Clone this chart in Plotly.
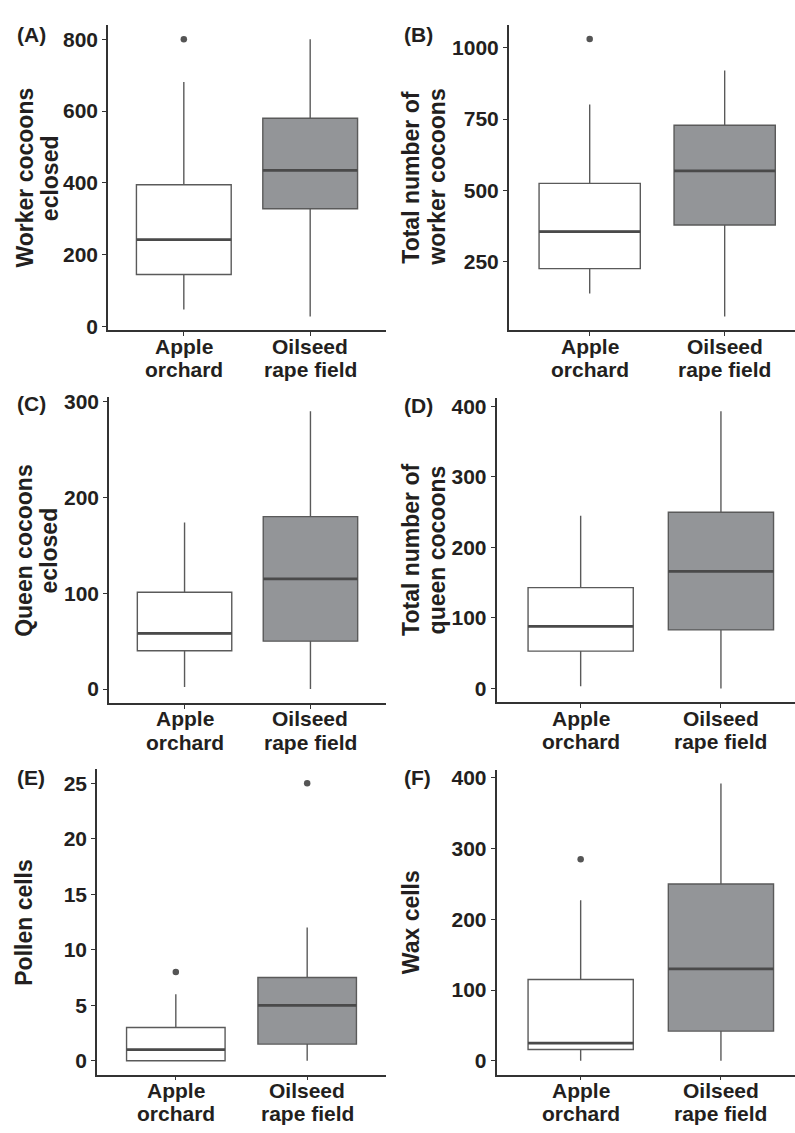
import plotly.graph_objects as go

# ---------------------------------------------------------------
# Colony measures by landscape type (box summaries)
# ---------------------------------------------------------------
groups = ["Apple orchard", "Oilseed rape field"]
group_label_lines = [["Apple", "orchard"], ["Oilseed", "rape field"]]

# (A) Worker cocoons eclosed
worker_eclosed_lower = [48, 28]
worker_eclosed_q1 = [145, 328]
worker_eclosed_median = [242, 435]
worker_eclosed_q3 = [395, 580]
worker_eclosed_upper = [681, 800]
worker_eclosed_outliers = [[800], []]
worker_eclosed_ticks = [0, 200, 400, 600, 800]

# (B) Total number of worker cocoons
worker_total_lower = [138, 57]
worker_total_q1 = [225, 378]
worker_total_median = [355, 568]
worker_total_q3 = [524, 728]
worker_total_upper = [801, 920]
worker_total_outliers = [[1031], []]
worker_total_ticks = [250, 500, 750, 1000]

# (C) Queen cocoons eclosed
queen_eclosed_lower = [2, 0]
queen_eclosed_q1 = [40, 50]
queen_eclosed_median = [58, 115]
queen_eclosed_q3 = [101, 180]
queen_eclosed_upper = [174, 290]
queen_eclosed_outliers = [[], []]
queen_eclosed_ticks = [0, 100, 200, 300]

# (D) Total number of queen cocoons
queen_total_lower = [3, 0]
queen_total_q1 = [53, 83]
queen_total_median = [88, 166]
queen_total_q3 = [143, 250]
queen_total_upper = [245, 393]
queen_total_outliers = [[], []]
queen_total_ticks = [0, 100, 200, 300, 400]

# (E) Pollen cells
pollen_lower = [0, 0]
pollen_q1 = [0, 1.5]
pollen_median = [1, 5]
pollen_q3 = [3, 7.5]
pollen_upper = [6, 12]
pollen_outliers = [[8], [25]]
pollen_ticks = [0, 5, 10, 15, 20, 25]

# (F) Wax cells
wax_lower = [0, 0]
wax_q1 = [16, 42]
wax_median = [25, 130]
wax_q3 = [115, 250]
wax_upper = [227, 392]
wax_outliers = [[285], []]
wax_ticks = [0, 100, 200, 300, 400]

panel_letters = ["(A)", "(B)", "(C)", "(D)", "(E)", "(F)"]
panel_titles = [
    ["Worker cocoons", "eclosed"],
    ["Total number of", "worker cocoons"],
    ["Queen cocoons", "eclosed"],
    ["Total number of", "queen cocoons"],
    ["Pollen cells"],
    ["Wax cells"],
]

panels = [
    (worker_eclosed_lower, worker_eclosed_q1, worker_eclosed_median, worker_eclosed_q3,
     worker_eclosed_upper, worker_eclosed_outliers, worker_eclosed_ticks),
    (worker_total_lower, worker_total_q1, worker_total_median, worker_total_q3,
     worker_total_upper, worker_total_outliers, worker_total_ticks),
    (queen_eclosed_lower, queen_eclosed_q1, queen_eclosed_median, queen_eclosed_q3,
     queen_eclosed_upper, queen_eclosed_outliers, queen_eclosed_ticks),
    (queen_total_lower, queen_total_q1, queen_total_median, queen_total_q3,
     queen_total_upper, queen_total_outliers, queen_total_ticks),
    (pollen_lower, pollen_q1, pollen_median, pollen_q3,
     pollen_upper, pollen_outliers, pollen_ticks),
    (wax_lower, wax_q1, wax_median, wax_q3,
     wax_upper, wax_outliers, wax_ticks),
]

# ---------------------------------------------------------------
# Page geometry (pixels)
# ---------------------------------------------------------------
W, H = 795, 1133
FONT = "Liberation Sans, Arial, Helvetica, sans-serif"
TXT = "#231f20"
AXIS_COL = "#333333"
BOX_LINE = "#5a5a5a"
MEDIAN_LINE = "#4a4a4a"
FILLS = ["#ffffff", "#939598"]

# x-domain in px, right end of category range
x_geom = [
    (108, 386, 1.6), (508.7, 795, 1.521),
    (109, 386, 1.6), (496.5, 795, 1.528),
    (97, 386, 1.6), (496.5, 795, 1.528),
]
# y-domain in px (top, bottom)
y_geom = [
    (18.5, 327.5), (18.3, 327.4),
    (395.3, 704.6), (395.4, 704.0),
    (772.0, 1081.0), (772.3, 1081.0),
]
# centres of y-title lines (px)
title_x = [
    [24.7, 50.3], [411, 437],
    [23.7, 49.3], [411, 436.5],
    [23.7], [411],
]
letter_pos = [
    (15, 27.5), (402, 27.5),
    (15, 401.5), (402, 403),
    (15, 780), (402, 780),
]


def px(x):
    return x / W


def py(y):
    return 1 - y / H


fig = go.Figure()
annotations = []
layout_axes = {}

for i, (lo, q1, med, q3, hi, outl, ticks) in enumerate(panels):
    n = i + 1
    xa = "x" if n == 1 else f"x{n}"
    ya = "y" if n == 1 else f"y{n}"

    # boxes (no whisker caps)
    for g in range(2):
        fig.add_trace(go.Box(
            x=[groups[g]], q1=[q1[g]], median=[med[g]], q3=[q3[g]],
            lowerfence=[lo[g]], upperfence=[hi[g]],
            fillcolor=FILLS[g], line=dict(color=BOX_LINE, width=1.4),
            width=0.75, whiskerwidth=0, boxpoints=False, showlegend=False,
            hoverinfo="skip", xaxis=xa, yaxis=ya,
        ))
    # heavier median bar
    fig.add_trace(go.Box(
        x=groups, q1=med, median=med, q3=med, lowerfence=med, upperfence=med,
        fillcolor="rgba(0,0,0,0)", line=dict(color=MEDIAN_LINE, width=2.8),
        width=0.75, whiskerwidth=0, boxpoints=False, showlegend=False,
        hoverinfo="skip", xaxis=xa, yaxis=ya,
    ))
    # outlying colonies
    ox, oy = [], []
    for g in range(2):
        for v in outl[g]:
            ox.append(groups[g])
            oy.append(v)
    if ox:
        fig.add_trace(go.Scatter(
            x=ox, y=oy, mode="markers",
            marker=dict(color="#555555", size=6.5),
            showlegend=False, hoverinfo="skip", xaxis=xa, yaxis=ya,
        ))

    # axis ranges with 5% expansion, as in ggplot
    allv = lo + hi + [v for grp in outl for v in grp]
    vmin, vmax = min(allv), max(allv)
    pad = 0.05 * (vmax - vmin)

    x0, x1, xr = x_geom[i]
    yt, yb = y_geom[i]
    layout_axes["xaxis" if n == 1 else f"xaxis{n}"] = dict(
        domain=[px(x0), px(x1)], anchor=ya,
        type="category", categoryorder="array", categoryarray=groups,
        range=[-0.6, xr], showgrid=False, zeroline=False,
        showline=True, linecolor=AXIS_COL, linewidth=1.5,
        ticks="outside", ticklen=4, tickwidth=1.4, tickcolor=AXIS_COL,
        showticklabels=False, fixedrange=True,
    )
    layout_axes["yaxis" if n == 1 else f"yaxis{n}"] = dict(
        domain=[py(yb), py(yt)], anchor=xa,
        range=[vmin - pad, vmax + pad], showgrid=False, zeroline=False,
        showline=True, linecolor=AXIS_COL, linewidth=1.5,
        ticks="outside", ticklen=4, tickwidth=1.4, tickcolor=AXIS_COL,
        tickvals=ticks, ticktext=[str(t) for t in ticks],
        tickfont=dict(family=FONT, size=21, color=TXT, weight="bold"),
        fixedrange=True,
    )

    # category labels beneath each box (two lines)
    for g in range(2):
        for k, line in enumerate(group_label_lines[g]):
            annotations.append(dict(
                x=groups[g], xref=xa, y=py(yb + 16.2 + 23.4 * k), yref="paper",
                text=line, showarrow=False, xanchor="center", yanchor="middle",
                borderpad=0,
                font=dict(family=FONT, size=21, color=TXT, weight="bold"),
            ))

    # y-axis titles
    ymid = py((yt + yb) / 2)
    for k, line in enumerate(panel_titles[i]):
        annotations.append(dict(
            x=px(title_x[i][k]), xref="paper", y=ymid, yref="paper",
            text=line, textangle=-90, showarrow=False,
            xanchor="center", yanchor="middle", borderpad=0,
            font=dict(family=FONT, size=23, color=TXT, weight="bold"),
        ))

    # panel letter
    lx, ly = letter_pos[i]
    annotations.append(dict(
        x=px(lx), xref="paper", y=py(ly), yref="paper",
        text=panel_letters[i], showarrow=False,
        xanchor="left", yanchor="middle",
        font=dict(family=FONT, size=21, color=TXT, weight="bold"),
    ))

fig.update_layout(
    width=W, height=H,
    margin=dict(l=0, r=0, t=0, b=0),
    paper_bgcolor="white", plot_bgcolor="white",
    boxmode="overlay",
    annotations=annotations,
    **layout_axes,
)

fig.write_html("out.html")
